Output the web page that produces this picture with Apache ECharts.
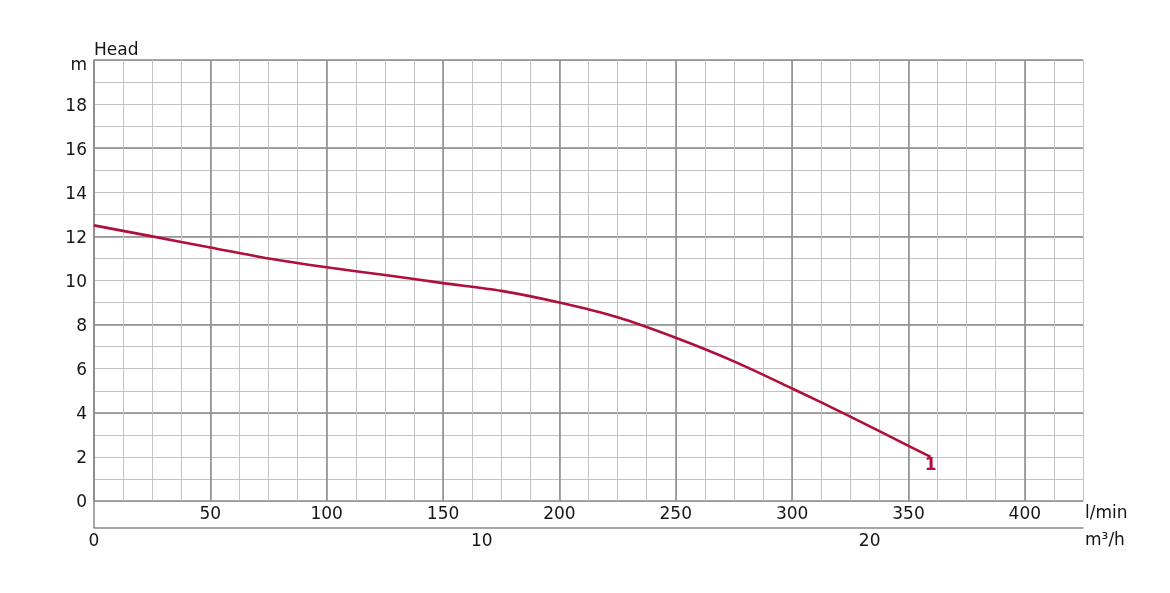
<!DOCTYPE html>
<html>
<head>
<meta charset="utf-8">
<script src="https://cdn.jsdelivr.net/npm/echarts@6/dist/echarts.min.js"></script>
<style>
html,body{margin:0;padding:0;background:#fff;}
#chart{width:1170px;height:593px;}
</style>
</head>
<body>
<div id="chart"></div>
<script>
// Data
const flowLmin = [0, 25, 50, 75, 100, 125, 150, 175, 200, 225, 250, 275, 300, 325, 350, 359.5];
const headM    = [12.5, 12.0, 11.5, 11.0, 10.6, 10.25, 9.88, 9.53, 9.0, 8.33, 7.4, 6.33, 5.1, 3.83, 2.5, 2.0];
const curveName = '1';
const lminLabels = [50, 100, 150, 200, 250, 300, 350, 400];
const m3hLabels = [0, 10, 20];
const headLabels = [0, 2, 4, 6, 8, 10, 12, 14, 16, 18];
const headTopLabel = 'm';

const LMIN_MAX = 425;
const M3H_MAX = LMIN_MAX * 60 / 1000;

const FONT = 'DejaVu Sans';
const FS = 17;
const TXT = '#151515';
const MAJOR = '#8a8a8a';
const MINOR = '#c2c2c2';
const CURVE = '#b00e3c';

const seriesData = flowLmin.map((x, i) => [x, headM[i]]);

const chart = echarts.init(document.getElementById('chart'), null, { renderer: 'canvas' });
chart.setOption({
  animation: false,
  backgroundColor: '#fff',
  grid: { left: 94, right: 87, top: 60, bottom: 92, containLabel: false },
  xAxis: [
    {
      type: 'value', min: 0, max: LMIN_MAX, interval: 12.5, position: 'bottom',
      axisLine: { show: false }, axisTick: { show: false },
      splitLine: { show: true, lineStyle: { color: MINOR, width: 1 } },
      axisLabel: {
        show: true, margin: 5, color: TXT, fontFamily: FONT, fontSize: FS,
        formatter: v => lminLabels.indexOf(v) >= 0 ? String(v) : ''
      },
      name: 'l/min', nameLocation: 'end', nameGap: 2,
      nameTextStyle: { color: TXT, fontFamily: FONT, fontSize: FS, verticalAlign: 'top', lineHeight: 17, padding: [4, 0, 0, 0] }
    },
    {
      type: 'value', min: 0, max: LMIN_MAX, interval: 50, position: 'bottom',
      axisLine: { show: false }, axisTick: { show: false }, axisLabel: { show: false },
      splitLine: { show: true, showMaxLine: false, lineStyle: { color: MAJOR, width: 1.5 } }
    },
    {
      type: 'value', min: 0, max: M3H_MAX, interval: 10, position: 'bottom', offset: 27,
      axisLine: { show: true, lineStyle: { color: MAJOR, width: 1.5 } },
      axisTick: { show: true, customValues: [0], inside: true, length: 27, lineStyle: { color: MAJOR, width: 1.5 } },
      splitLine: { show: false },
      axisLabel: {
        show: true, margin: 5, color: TXT, fontFamily: FONT, fontSize: FS, showMaxLabel: false,
        formatter: v => m3hLabels.indexOf(v) >= 0 ? String(v) : ''
      },
      name: 'm³/h', nameLocation: 'end', nameGap: 2,
      nameTextStyle: { color: TXT, fontFamily: FONT, fontSize: FS, verticalAlign: 'top', lineHeight: 17, padding: [4, 0, 0, 0] }
    }
  ],
  yAxis: [
    {
      type: 'value', min: 0, max: 20, interval: 1, position: 'left',
      axisLine: { show: true, lineStyle: { color: MAJOR, width: 1.5 } },
      axisTick: { show: false },
      splitLine: { show: true, lineStyle: { color: MINOR, width: 1 } },
      axisLabel: {
        show: true, margin: 7, color: TXT, fontFamily: FONT, fontSize: FS,
        padding: [4, 0, 0, 0],
        formatter: v => v === 20 ? '{m|' + headTopLabel + '}' : (headLabels.indexOf(v) >= 0 ? String(v) : ''),
        rich: { m: { fontFamily: FONT, fontSize: FS, color: TXT, padding: [8, 0, 0, 0] } }
      },
      name: 'Head', nameLocation: 'end', nameGap: 1,
      nameTextStyle: { color: TXT, fontFamily: FONT, fontSize: FS, align: 'left', lineHeight: 17 }
    },
    {
      type: 'value', min: 0, max: 20, interval: 4, position: 'left',
      axisLine: { show: false }, axisTick: { show: false }, axisLabel: { show: false },
      splitLine: { show: true, lineStyle: { color: MAJOR, width: 1.5 } }
    }
  ],
  series: [
    {
      type: 'line', name: curveName, xAxisIndex: 0, yAxisIndex: 0,
      data: seriesData, smooth: 0.3, showSymbol: false, symbol: 'none',
      lineStyle: { color: CURVE, width: 2.6 }, z: 5,
      endLabel: {
        show: true, formatter: curveName, color: CURVE, fontFamily: FONT,
        fontWeight: 'bold', fontSize: 17, align: 'center', verticalAlign: 'top',
        distance: 0, offset: [0, 0]
      }
    }
  ]
});
</script>
</body>
</html>
